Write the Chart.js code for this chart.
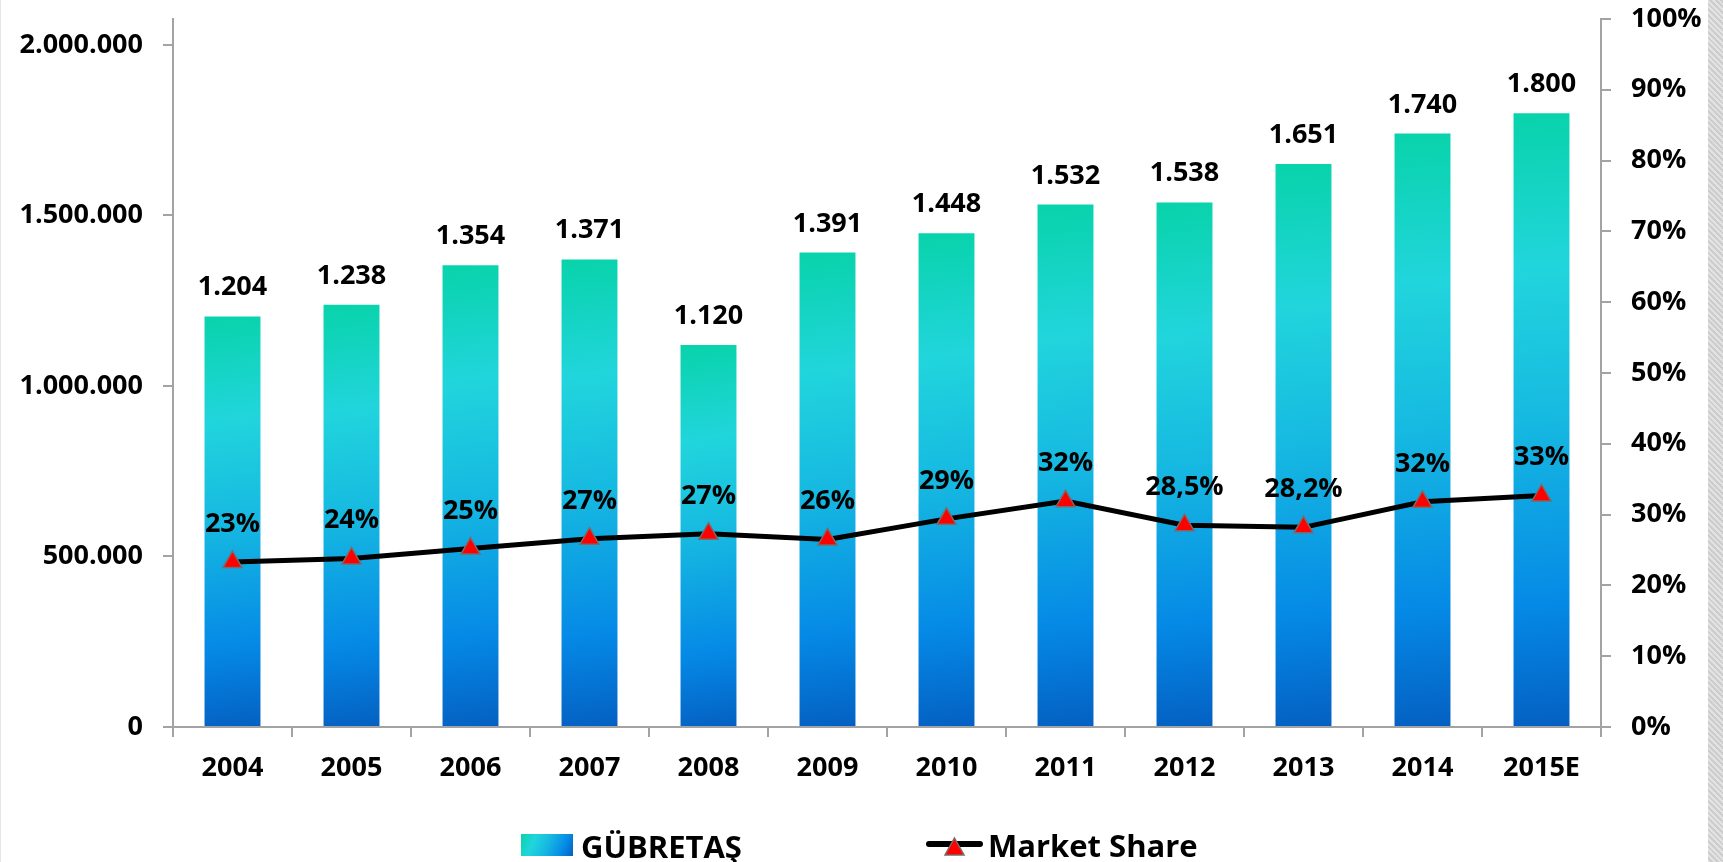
<!DOCTYPE html>
<html>
<head>
<meta charset="utf-8">
<script src="https://cdn.jsdelivr.net/npm/chart.js@4"></script>
<style>
  html, body { margin: 0; padding: 0; background: #fff; }
  #wrap { position: relative; width: 1723px; height: 862px; overflow: hidden; }
  #edge { position: absolute; left: 1708px; top: 0; width: 15px; height: 862px;
    background: repeating-linear-gradient(45deg, #e2e2e2 0 2px, #cdcdcd 2px 4px); }
  #leftline { position: absolute; left: 0; top: 0; width: 1px; height: 862px; background: #e6e6e6; }
</style>
</head>
<body>
<div id="wrap">
  <canvas id="chart" width="1723" height="862"></canvas>
  <div id="edge"></div>
  <div id="leftline"></div>
</div>
<script>
// veriler
const years = ['2004', '2005', '2006', '2007', '2008', '2009', '2010', '2011', '2012', '2013', '2014', '2015E'];
const gubretas = [1204, 1238, 1354, 1371, 1120, 1391, 1448, 1532, 1538, 1651, 1740, 1800]; // bin ton
const marketShare = [23.3, 23.8, 25.2, 26.6, 27.3, 26.5, 29.4, 31.9, 28.5, 28.2, 31.8, 32.7];
const shareLabels = ['23%', '24%', '25%', '27%', '27%', '26%', '29%', '32%', '28,5%', '28,2%', '32%', '33%'];
const leftTicks = [0, 500, 1000, 1500, 2000]; // bin ton
const legendNames = ['GÜBRETAŞ', 'Market Share'];

const FONT = "'Open Sans', sans-serif";
const AXIS_GRAY = '#a3a3a3';

function dots(n) {
  return String(n).replace(/\B(?=(\d{3})+(?!\d))/g, '.');
}

function barGradient(ctx, x0, y0, x1, y1) {
  const g = ctx.createLinearGradient(x0, y0, x1, y1);
  g.addColorStop(0, '#08d3aa');
  g.addColorStop(0.25, '#21d5dc');
  g.addColorStop(0.5, '#16b9e1');
  g.addColorStop(0.8, '#0589e6');
  g.addColorStop(1, '#0460c2');
  return g;
}

// y eksenlerinin ust/alt bosluklarini sifirla
function fixY(width) {
  return (s) => {
    s.width = width;
    s.paddingTop = 0;
    s.paddingBottom = 0;
  };
}

// etiketler + legend
const labelsPlugin = {
  id: 'labels',
  afterDatasetsDraw(chart) {
    const ctx = chart.ctx;
    ctx.save();
    ctx.fillStyle = '#000';
    ctx.font = 'bold 27px ' + FONT;
    ctx.textAlign = 'center';
    ctx.textBaseline = 'alphabetic';
    chart.getDatasetMeta(0).data.forEach((bar, i) => {
      ctx.fillText(dots(gubretas[i]), bar.x, bar.y - 21);
    });
    chart.getDatasetMeta(1).data.forEach((pt, i) => {
      ctx.fillText(shareLabels[i], pt.x, pt.y - 30);
    });
    ctx.restore();
  },
  afterDraw(chart) {
    const ctx = chart.ctx;
    ctx.save();
    // kutu
    ctx.fillStyle = barGradient(ctx, 521, 834, 573, 856);
    ctx.fillRect(521, 834, 52, 22);
    // cizgi + ucgen
    ctx.strokeStyle = '#000';
    ctx.lineWidth = 6;
    ctx.lineCap = 'round';
    ctx.beginPath();
    ctx.moveTo(929, 844);
    ctx.lineTo(980, 844);
    ctx.stroke();
    ctx.fillStyle = '#ff0000';
    ctx.strokeStyle = '#7a6a6a';
    ctx.lineWidth = 1.5;
    ctx.beginPath();
    ctx.moveTo(954.5, 838);
    ctx.lineTo(964, 855);
    ctx.lineTo(945, 855);
    ctx.closePath();
    ctx.fill();
    ctx.stroke();
    // yazilar
    ctx.fillStyle = '#000';
    ctx.font = 'bold 31px ' + FONT;
    ctx.textBaseline = 'alphabetic';
    ctx.textAlign = 'left';
    ctx.fillText(legendNames[0], 581, 858);
    ctx.fillText(legendNames[1], 988, 857);
    ctx.restore();
  }
};

Chart.defaults.font.family = FONT;
Chart.defaults.font.size = 27;
Chart.defaults.font.weight = 'bold';
Chart.defaults.color = '#000';

new Chart(document.getElementById('chart'), {
  type: 'bar',
  data: {
    labels: years,
    datasets: [
      {
        type: 'bar',
        label: legendNames[0],
        data: gubretas,
        yAxisID: 'y',
        order: 1,
        categoryPercentage: 1,
        barPercentage: 0.47,
        backgroundColor: (c) => {
          const chart = c.chart;
          if (c.type !== 'data' || !chart.chartArea || !chart.scales.y) return '#16b9e1';
          const xs = chart.scales.x, ys = chart.scales.y;
          const xc = xs.getPixelForValue(c.dataIndex);
          const top = ys.getPixelForValue(c.raw);
          const bottom = ys.getPixelForValue(0);
          return barGradient(chart.ctx, xc - 28, top, xc + 28, bottom);
        },
        borderWidth: 0
      },
      {
        type: 'line',
        label: legendNames[1],
        data: marketShare,
        yAxisID: 'y1',
        order: 0,
        borderColor: '#000',
        borderWidth: 5,
        tension: 0,
        pointStyle: 'triangle',
        pointRadius: 11,
        pointBackgroundColor: '#ff0000',
        pointBorderColor: '#7a6a6a',
        pointBorderWidth: 1.5
      }
    ]
  },
  options: {
    responsive: false,
    animation: false,
    devicePixelRatio: 1,
    layout: { padding: { top: 19, left: 0, right: 0, bottom: 0 } },
    plugins: {
      legend: { display: false },
      tooltip: { enabled: false }
    },
    scales: {
      x: {
        offset: true,
        grid: { display: true, offset: true, drawOnChartArea: false, drawTicks: true, tickLength: 10, color: AXIS_GRAY, lineWidth: 2 },
        border: { display: true, color: AXIS_GRAY, width: 2 },
        ticks: { padding: 15, maxRotation: 0, autoSkip: false },
        afterFit: (s) => { s.height = 135; }
      },
      y: {
        position: 'left',
        min: 0,
        max: 2076,
        grid: { drawOnChartArea: false, drawTicks: true, tickLength: 10, color: AXIS_GRAY, lineWidth: 2 },
        border: { display: true, color: AXIS_GRAY, width: 2 },
        ticks: {
          padding: 20,
          callback: (v) => dots(v * 1000)
        },
        afterBuildTicks: (s) => { s.ticks = leftTicks.map((v) => ({ value: v })); },
        afterFit: fixY(173)
      },
      y1: {
        position: 'right',
        min: 0,
        max: 100,
        grid: { drawOnChartArea: false, drawTicks: true, tickLength: 10, color: AXIS_GRAY, lineWidth: 2 },
        border: { display: true, color: AXIS_GRAY, width: 2 },
        ticks: {
          stepSize: 10,
          padding: 20,
          callback: (v) => v + '%'
        },
        afterFit: fixY(122)
      }
    }
  },
  plugins: [labelsPlugin]
});
</script>
</body>
</html>
